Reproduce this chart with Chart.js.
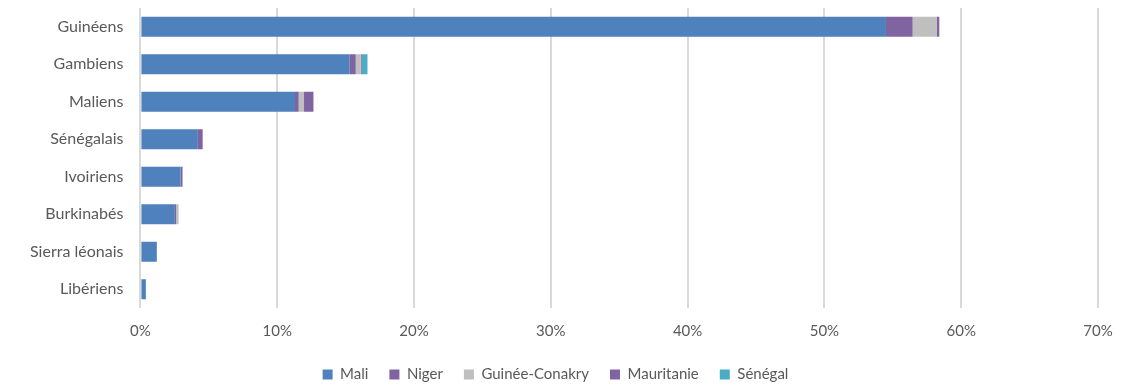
<!DOCTYPE html>
<html lang="fr">
<head>
  <meta charset="UTF-8">
  <title>Nationalités</title>
  <script src="https://cdn.jsdelivr.net/npm/chart.js"></script>
  <style>
    html, body { margin: 0; padding: 0; background: #fff; }
  </style>
</head>
<body>
  <canvas id="graph" width="1128" height="385"></canvas>
  <script>
    const categories = ["Guinéens", "Gambiens", "Maliens", "Sénégalais", "Ivoiriens", "Burkinabés", "Sierra léonais", "Libériens"];
    const mali       = [54.5, 15.3, 11.3, 4.2, 2.93, 2.52, 1.2, 0.4];
    const niger      = [1.95, 0.44, 0.27, 0.35, 0.15, 0.09, 0, 0];
    const guinee     = [1.75, 0.37, 0.39, 0, 0, 0.18, 0, 0];
    const mauritanie = [0.2, 0.07, 0.69, 0, 0, 0, 0, 0];
    const senegal    = [0, 0.42, 0, 0, 0, 0, 0, 0];
    const xTicksMax = 70;

    const family = "Lato, 'DejaVu Sans', sans-serif";
    const font = { family, size: 15 };
    const grey = "#595959";

    const mk = (label, data, color) => ({
      label, data, backgroundColor: color, borderWidth: 0,
      barPercentage: 0.53, categoryPercentage: 1
    });

    new Chart(document.getElementById("graph"), {
      type: "bar",
      data: {
        labels: categories,
        datasets: [
          mk("Mali", mali, "#4f81bd"),
          mk("Niger", niger, "#8064a2"),
          mk("Guinée-Conakry", guinee, "#bfbfbf"),
          mk("Mauritanie", mauritanie, "#8064a2"),
          mk("Sénégal", senegal, "#4bacc6")
        ]
      },
      options: {
        indexAxis: "y",
        responsive: false,
        animation: false,
        maintainAspectRatio: false,
        layout: { padding: { left: 13, right: 30, top: 8, bottom: -7 } },
        plugins: {
          tooltip: { enabled: false },
          legend: {
            position: "bottom",
            labels: { font, color: grey, boxWidth: 10, boxHeight: 10, padding: 21 }
          }
        },
        scales: {
          x: {
            stacked: true, min: 0, max: xTicksMax,
            ticks: { stepSize: 10, maxRotation: 0, callback: v => v + "%", font, color: grey, padding: 14 },
            grid: { color: "#d9d9d9", lineWidth: 2, drawTicks: false },
            border: { display: false },
            afterFit: s => { s.height -= 8; }
          },
          y: {
            stacked: true,
            ticks: { font: { family, size: 16 }, color: grey, padding: 17 },
            grid: { display: false, drawTicks: false },
            border: { display: false },
            // pas de marge haute/basse liée aux étiquettes
            afterFit: s => { s.paddingTop = 0; s.paddingBottom = 0; }
          }
        }
      }
    });
  </script>
</body>
</html>
